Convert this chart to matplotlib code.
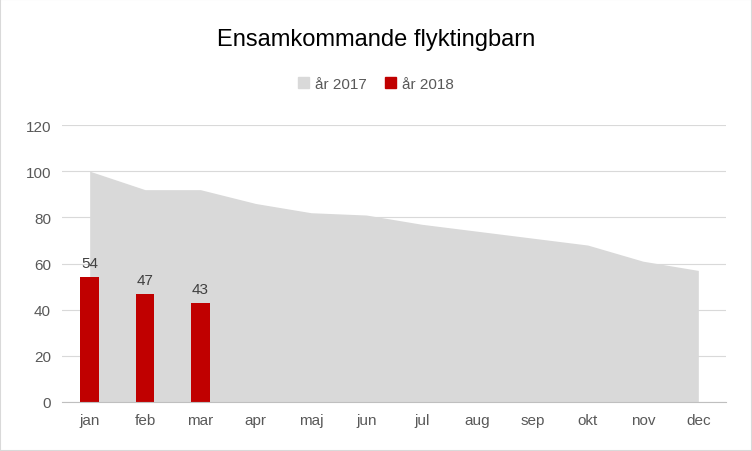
import matplotlib
matplotlib.use("Agg")
import matplotlib.pyplot as plt
from matplotlib.patches import Patch, Rectangle

months = ["jan","feb","mar","apr","maj","jun","jul","aug","sep","okt","nov","dec"]
y2017 = [100, 92, 92, 86, 82, 81, 77, 74, 71, 68, 61, 57]
y2018 = [54, 47, 43]

plt.rcParams["font.family"] = "Liberation Sans"
fig = plt.figure(figsize=(7.52, 4.52), dpi=100)
ax = fig.add_axes([62/752, 49/452, 664/752, 277/452])
x = list(range(len(months)))
ax.fill_between(x, y2017, 0, color="#d9d9d9", lw=0, zorder=1)
bars = ax.bar(x[:len(y2018)], y2018, width=0.34, color="#c00000", zorder=2)
for xi, v in zip(x, y2018):
    ax.text(xi, v + 3, str(v), ha="center", va="bottom", fontsize=11, color="#404040")
ax.set_xlim(-0.5, 11.5)
ax.set_ylim(0, 120)
ax.set_yticks(range(0, 121, 20))
ax.set_xticks(x)
ax.set_xticklabels(months)
ax.grid(axis="y", color="#d9d9d9", lw=0.8, zorder=0)
ax.set_axisbelow(True)
for s in ["top", "right", "left"]:
    ax.spines[s].set_visible(False)
ax.spines["bottom"].set_color("#bfbfbf")
ax.tick_params(axis="both", length=0, labelsize=11, colors="#595959", pad=8)
fig.text(0.5, 40/452 and 1 - 40/452, "Ensamkommande flyktingbarn", ha="center", va="center", fontsize=17, color="black")
handles = [Patch(color="#d9d9d9", label="år 2017"), Patch(color="#c00000", label="år 2018")]
fig.legend(handles=handles, loc="center", bbox_to_anchor=(0.5, 1 - 85/452), ncol=2, frameon=False,
           fontsize=11, handlelength=0.7, handleheight=0.7, columnspacing=1.2, handletextpad=0.4,
           labelcolor="#595959")
fig.patches.append(Rectangle((0, 0), 1, 1, transform=fig.transFigure, fill=False, edgecolor="#d9d9d9", lw=1.5))
fig.savefig("out.png", dpi=100)
